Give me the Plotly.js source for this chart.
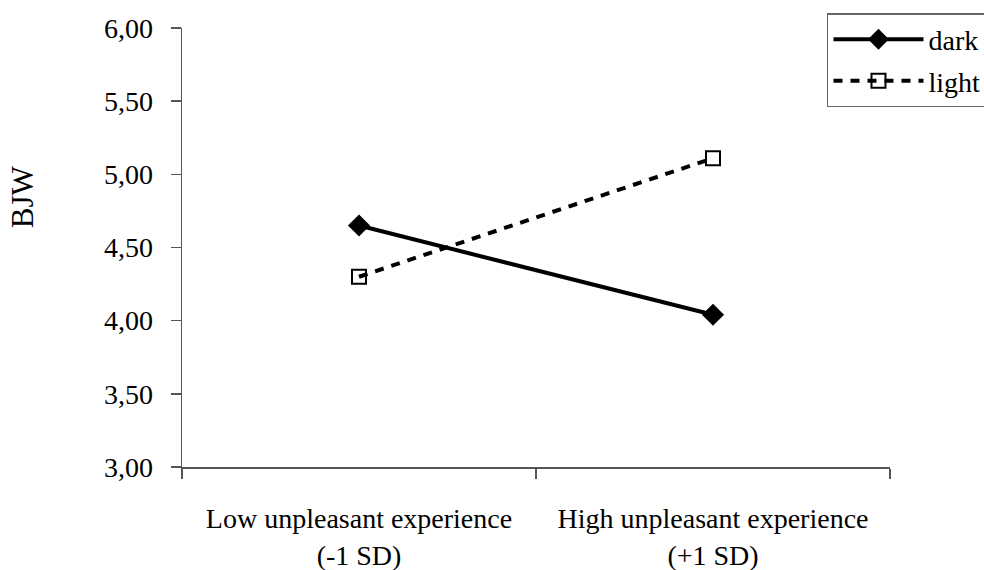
<!DOCTYPE html>
<html>
<head>
<meta charset="utf-8">
<script src="https://cdn.plot.ly/plotly-3.0.1.min.js"></script>
<style>html,body{margin:0;padding:0;background:#fff;}#chart{width:984px;height:570px;overflow:hidden;}</style>
</head>
<body>
<div id="chart"></div>
<script>
const categories = ["Low unpleasant experience<br>(-1 SD)", "High unpleasant experience<br>(+1 SD)"];
const categoryPositions = [0.5, 1.5];
const categoryBounds = [0, 1, 2];
const darkValues = [4.65, 4.04];
const lightValues = [4.30, 5.11];
const yTicks = [3.0, 3.5, 4.0, 4.5, 5.0, 5.5, 6.0];
const yTickLabels = ["3,00", "3,50", "4,00", "4,50", "5,00", "5,50", "6,00"];

const font = "'Liberation Serif', 'Times New Roman', serif";

const traces = [
  {
    x: categoryPositions, y: darkValues, name: "dark", type: "scatter", mode: "lines+markers",
    line: {color: "#000", width: 4},
    marker: {symbol: "diamond", size: 17, color: "#000"},
    legendgroup: "a"
  },
  {
    x: categoryPositions, y: lightValues, name: "light", type: "scatter", mode: "lines+markers",
    line: {color: "#000", width: 4, dash: "9px,8px"},
    marker: {symbol: "square-open", size: 14, color: "#000", line: {width: 2, color: "#000"}},
    legendgroup: "b"
  }
];

const layout = {
  width: 984, height: 570,
  margin: {l: 182, r: 94, t: 28, b: 103, autoexpand: false},
  paper_bgcolor: "#fff", plot_bgcolor: "#fff",
  font: {family: font, size: 28, color: "#000"},
  showlegend: true,
  legend: {
    x: 0.911, y: 1.034, xanchor: "left", yanchor: "top",
    bordercolor: "#666", borderwidth: 1.5, bgcolor: "#fff",
    font: {family: font, size: 28, color: "#000"},
    tracegroupgap: 2, itemwidth: 90
  },
  xaxis: {
    range: [0, 2], tickmode: "array", tickvals: categoryPositions, ticktext: categories,
    ticks: "", showgrid: false, zeroline: false, showline: true, linecolor: "#555", linewidth: 1.5,
    ticklabelstandoff: 26,
    tickfont: {family: font, size: 28, color: "#000"},
    minor: {tickmode: "array", tickvals: categoryBounds, ticks: "outside", ticklen: 10, tickwidth: 1.5, tickcolor: "#555", showgrid: false}
  },
  yaxis: {
    range: [3, 6], tickmode: "array", tickvals: yTicks, ticktext: yTickLabels,
    ticks: "outside", ticklen: 10, tickwidth: 1.5, tickcolor: "#555",
    showgrid: false, zeroline: false, showline: true, linecolor: "#555", linewidth: 1.5,
    ticklabelstandoff: 12,
    tickfont: {family: font, size: 28, color: "#000"}
  },
  annotations: [{
    text: "BJW", xref: "paper", yref: "paper", x: -0.226, y: 0.617,
    showarrow: false, textangle: -90, font: {family: font, size: 31, color: "#000"},
    xanchor: "center", yanchor: "middle"
  }]
};

Plotly.newPlot("chart", traces, layout, {displayModeBar: false, staticPlot: true});
</script>
</body>
</html>
